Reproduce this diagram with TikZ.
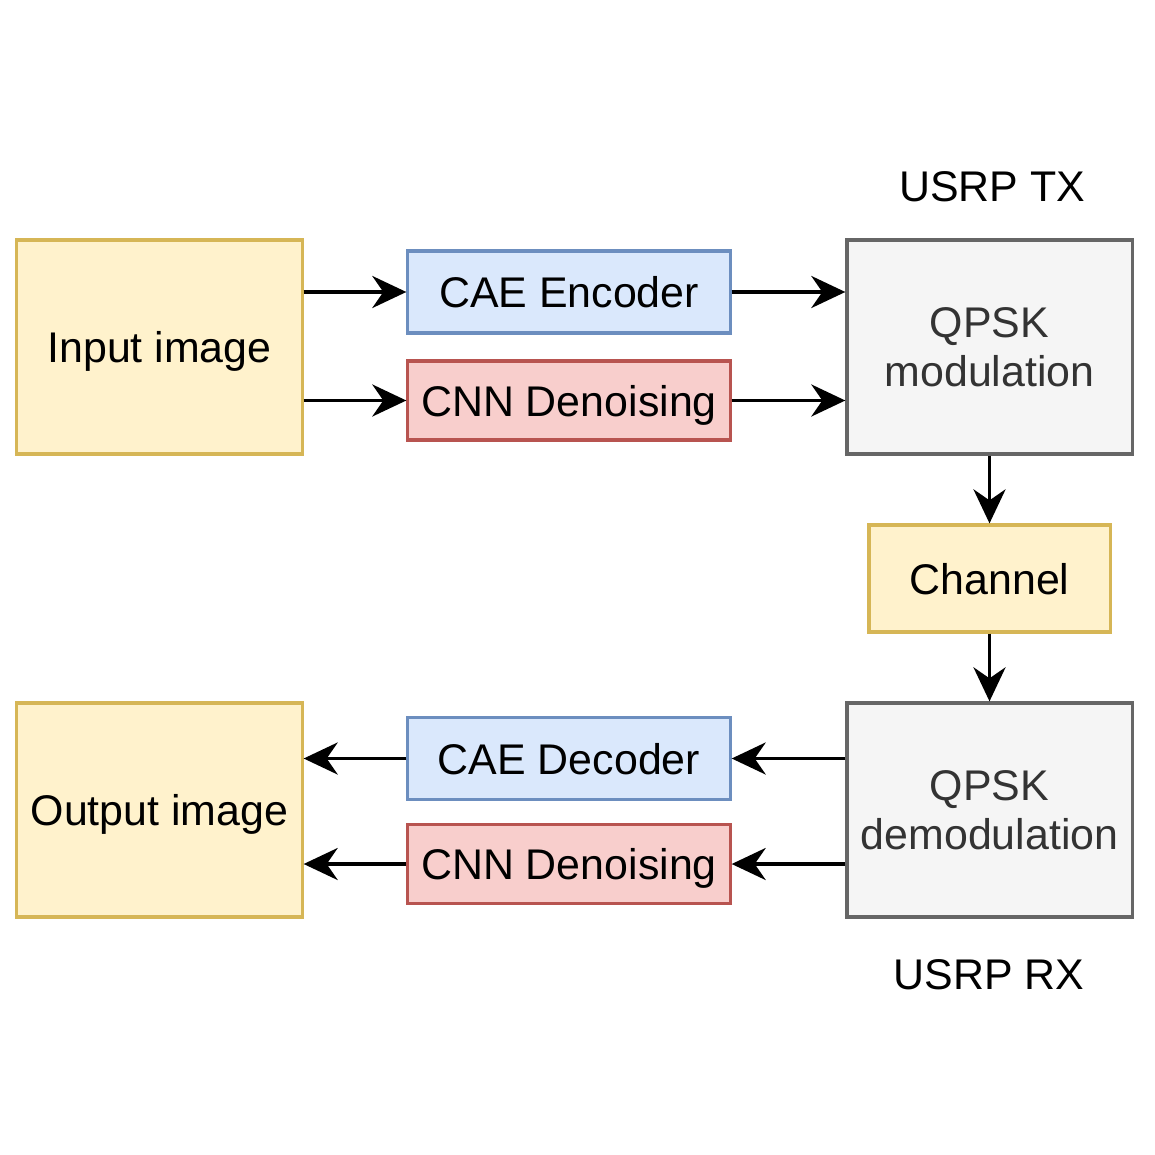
\documentclass[tikz,border=0pt]{standalone}
\usepackage{fontspec}
\setmainfont{Liberation Sans}
\usetikzlibrary{arrows.meta,positioning}
\definecolor{yelFill}{HTML}{FFF2CC}
\definecolor{yelLine}{HTML}{D6B656}
\definecolor{bluFill}{HTML}{DAE8FC}
\definecolor{bluLine}{HTML}{6C8EBF}
\definecolor{redFill}{HTML}{F8CECC}
\definecolor{redLine}{HTML}{B85450}
\definecolor{gryFill}{HTML}{F5F5F5}
\definecolor{gryLine}{HTML}{666666}
\definecolor{gryText}{HTML}{333333}

\begin{document}
\begin{tikzpicture}[x=0.01cm, y=-0.01cm, >={Stealth[length=3.4mm, width=3.2mm, inset=1.1mm]},
    blk/.style={draw, line width=0.9pt, inner sep=0pt, align=center, text depth=0pt,
                font=\fontsize{12.2}{13.7}\selectfont},
    imgbox/.style={blk, fill=yelFill, draw=yelLine, minimum width=2.85cm, minimum height=2.14cm},
    encbox/.style={blk, fill=bluFill, draw=bluLine, minimum width=3.22cm, minimum height=0.82cm},
    cnnbox/.style={blk, fill=redFill, draw=redLine, minimum width=3.22cm, minimum height=0.79cm},
    modbox/.style={blk, fill=gryFill, draw=gryLine, text=gryText, minimum width=2.85cm, minimum height=2.14cm},
    chbox/.style={blk, fill=yelFill, draw=yelLine, minimum width=2.41cm, minimum height=1.07cm},
    link/.style={->, line width=1.05pt}]
    \useasboundingbox (0,0) rectangle (1155,1155);
    % --- transmitter side ---
    \node[imgbox] (inp) at (159.5,347) {Input image};
    \node[encbox] (enc) at (569,292) {CAE Encoder};
    \node[cnnbox] (cnnTx) at (569,400.5) {CNN Denoising};
    \node[modbox] (mod) at (989.5,347) {QPSK\\modulation};
    \node[font=\fontsize{12.2}{14}\selectfont] (usrpTx) at (992,187) {USRP TX};
    % --- channel ---
    \node[chbox] (chan) at (989.5,578.5) {Channel};
    % --- receiver side ---
    \node[modbox] (demod) at (989.5,810) {QPSK\\demodulation};
    \node[encbox] (dec) at (569,758.5) {CAE Decoder};
    \node[cnnbox] (cnnRx) at (569,864) {CNN Denoising};
    \node[imgbox] (out) at (159.5,810) {Output image};
    \node[font=\fontsize{12.2}{14}\selectfont] (usrpRx) at (989,975) {USRP RX};
    % --- connectors ---
    \draw[link] (inp.east |- enc) -- (enc.west);
    \draw[link] (inp.east |- cnnTx) -- (cnnTx.west);
    \draw[link] (enc.east) -- (mod.west |- enc);
    \draw[link] (cnnTx.east) -- (mod.west |- cnnTx);
    \draw[link] (mod.south) -- (chan.north);
    \draw[link] (chan.south) -- (demod.north);
    \draw[link] (demod.west |- dec) -- (dec.east);
    \draw[link] (demod.west |- cnnRx) -- (cnnRx.east);
    \draw[link] (dec.west) -- (out.east |- dec);
    \draw[link] (cnnRx.west) -- (out.east |- cnnRx);
\end{tikzpicture}
\end{document}
